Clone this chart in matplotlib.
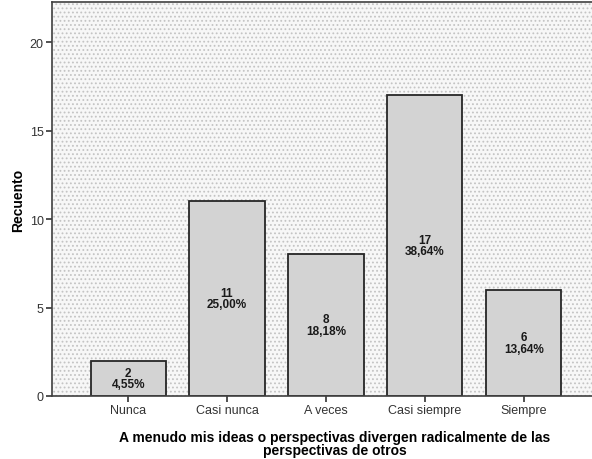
import matplotlib
matplotlib.use("Agg")
import matplotlib.pyplot as plt
from matplotlib.patches import Rectangle

categories = ["Nunca", "Casi nunca", "A veces", "Casi siempre", "Siempre"]
counts = [2, 11, 8, 17, 6]
percents = ["4,55%", "25,00%", "18,18%", "38,64%", "13,64%"]
yticks = [0, 5, 10, 15, 20]

plt.rcParams['font.family'] = ['Liberation Sans', 'DejaVu Sans']
plt.rcParams['hatch.linewidth'] = 0.8

fig = plt.figure(figsize=(5.92, 4.60), dpi=100)
ax = fig.add_axes([52/592, 63/460, 1 - 52/592, (397-3)/460])

ax.set_facecolor('#f7f7f7')
bg = Rectangle((0, 0), 1, 1, transform=ax.transAxes, facecolor='#f7f7f7',
               edgecolor='#c4c4c4', hatch='....', linewidth=0, zorder=0)
ax.add_patch(bg)

x = list(range(len(categories)))
bars = ax.bar(x, counts, width=0.76, color='#d3d3d3', edgecolor='#262626',
              linewidth=1.3, zorder=2)
for xi, c, p in zip(x, counts, percents):
    ax.text(xi, c / 2, f"{c}\n{p}", ha='center', va='center', fontsize=8.5,
            fontweight='bold', color='#1a1a1a', linespacing=0.95, zorder=3)

ax.set_xlim(-0.77, 4.69)
ax.set_ylim(0, 22.26)
ax.set_xticks(x)
ax.set_xticklabels(categories, fontsize=9, color='#333333')
ax.set_yticks(yticks)
ax.set_yticklabels([str(t) for t in yticks], fontsize=9, color='#333333')
ax.tick_params(axis='both', length=4, width=1.2, color='#333333', pad=2)

for s in ['top', 'left', 'bottom']:
    ax.spines[s].set_color('#404040')
    ax.spines[s].set_linewidth(1.2)
ax.spines['right'].set_visible(False)

ax.set_ylabel("Recuento", fontsize=10, fontweight='bold', labelpad=3)
ax.set_xlabel("A menudo mis ideas o perspectivas divergen radicalmente de las\nperspectivas de otros",
              fontsize=10, fontweight='bold', labelpad=10, linespacing=0.9)
ax.xaxis.label.set_x(0.524)

fig.savefig("out.png", dpi=100)
